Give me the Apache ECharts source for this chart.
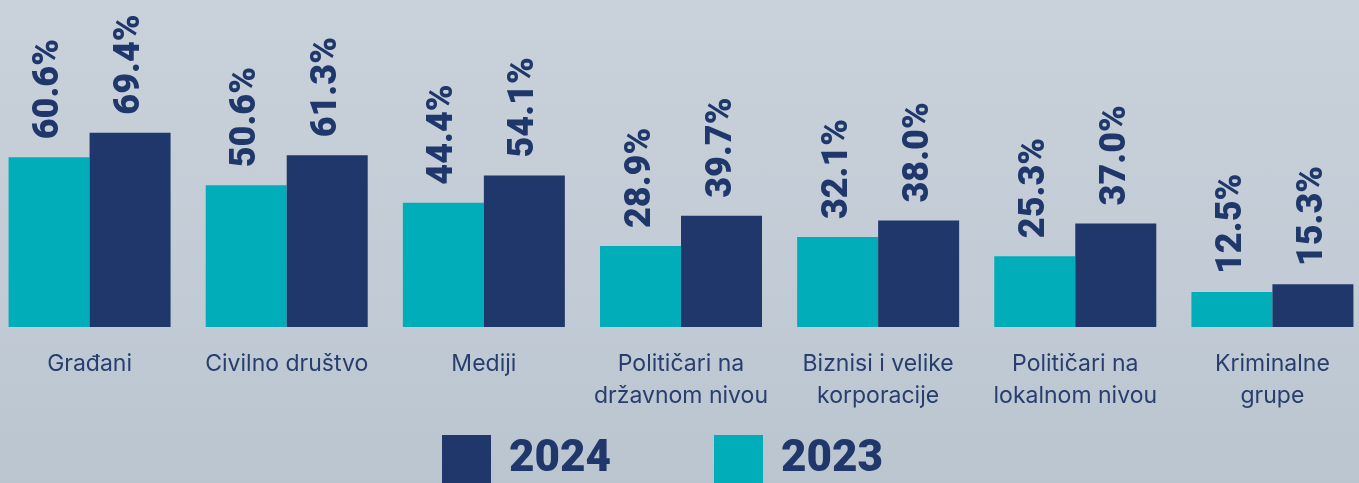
<!DOCTYPE html>
<html>
<head>
<meta charset="utf-8">
<script src="https://cdn.jsdelivr.net/npm/echarts@6/dist/echarts.min.js"></script>
<style>
  html, body { margin: 0; padding: 0; }
  body {
    width: 1359px;
    height: 483px;
    overflow: hidden;
    position: relative;
    background: linear-gradient(180deg, #c9d1da 0%, #c3ccd6 55%, #bac5d0 100%);
  }
  /* chart area is a bit wider than the window: outer bars sit closer to the edge than the group gap */
  #chart { position: absolute; left: -9px; top: 0; width: 1380px; height: 483px; }
</style>
</head>
<body>
<div id="chart"></div>
<script>
const categories = [
  'Građani',
  'Civilno društvo',
  'Mediji',
  'Političari na\ndržavnom nivou',
  'Biznisi i velike\nkorporacije',
  'Političari na\nlokalnom nivou',
  'Kriminalne\ngrupe'
]
const values2023 = [60.6, 50.6, 44.4, 28.9, 32.1, 25.3, 12.5]
const values2024 = [69.4, 61.3, 54.1, 39.7, 38.0, 37.0, 15.3]
const legendNames = ['2024', '2023']

const NAVY = '#1f376b'
const TEAL = '#01adb9'

const chart = echarts.init(document.getElementById('chart'), null, { renderer: 'canvas' })

function barLabel() {
  return {
    show: true,
    position: 'top',
    rotate: 90,
    align: 'left',
    verticalAlign: 'middle',
    distance: 18,
    color: NAVY,
    fontFamily: 'Roboto',
    fontWeight: 900,
    fontSize: 36,
    formatter: p => p.value.toFixed(1) + '%'
  }
}

const option = {
  backgroundColor: 'transparent',
  animation: false,
  grid: {
    left: 0,
    right: 0,
    top: 47,
    bottom: 156,
    containLabel: false
  },
  legend: {
    data: legendNames,
    top: 430,
    left: 446,
    itemWidth: 49,
    itemHeight: 49,
    itemGap: 103,
    icon: 'rect',
    textStyle: {
      color: NAVY,
      fontFamily: 'Roboto',
      fontWeight: 900,
      fontSize: 44,
      padding: [0, 0, 0, 13]
    }
  },
  xAxis: {
    type: 'category',
    data: categories,
    axisLine: { show: false },
    axisTick: { show: false },
    axisLabel: {
      color: '#283e6e',
      fontFamily: 'Inter',
      fontSize: 23,
      lineHeight: 32,
      margin: 21,
      interval: 0
    }
  },
  yAxis: {
    type: 'value',
    min: 0,
    max: 100,
    show: false,
    splitLine: { show: false }
  },
  series: [
    {
      name: '2023',
      type: 'bar',
      data: values2023,
      barWidth: 81,
      barGap: '0%',
      itemStyle: { color: TEAL },
      label: barLabel()
    },
    {
      name: '2024',
      type: 'bar',
      data: values2024,
      barWidth: 81,
      barGap: '0%',
      itemStyle: { color: NAVY },
      label: barLabel()
    }
  ]
}

chart.setOption(option)
</script>
</body>
</html>
